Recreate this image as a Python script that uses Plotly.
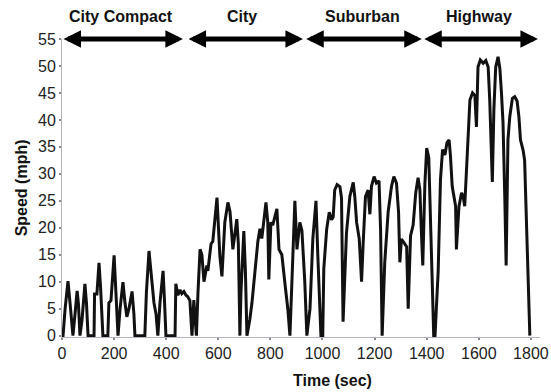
import plotly.graph_objects as go

# ---- data ----
time_city_compact = [0, 4, 12, 23, 31, 42, 50, 58, 63, 69, 77, 88, 94, 100, 123, 125, 134, 142, 148, 157,
                     176, 180, 188, 200, 205, 215, 223, 234, 242, 249, 257, 269, 276, 280, 318, 324, 334, 342, 353, 361,
                     368, 376, 388, 393, 399, 434, 437, 445, 453, 460, 468, 476, 483, 491, 499, 506, 516]
speed_city_compact = [0, 0, 5, 10.1, 6, 0, 4, 8.3, 6, 0, 3, 9.6, 6, 0, 0, 7.7, 7.7, 13.5, 9, 0,
                      0, 6.1, 6.5, 14.9, 10, 0, 5, 9.9, 6, 3.5, 5, 8.2, 4, 0, 0, 8, 15.7, 11, 6.1, 4,
                      0, 6, 12.0, 7, 0, 0, 9.6, 7.5, 8.5, 7.8, 8.2, 7.5, 7.2, 6.5, 0, 6.6, 0]

time_city = [522, 530, 537, 545, 556, 560, 572, 579, 595, 606, 614, 625, 637, 645, 656, 660, 671, 677, 683, 687,
             698, 704, 710, 721, 729, 741, 752, 760, 767, 783, 790, 794, 802, 809, 825, 833, 844, 856, 867, 875,
             883, 894, 902, 913, 921, 932, 940, 952, 963, 975, 982, 994]
speed_city = [8, 16.0, 15, 10, 13, 12, 17, 17.5, 25.6, 14.8, 11, 21, 24.7, 23, 16, 17.5, 21.6, 17, 0, 8,
              19.4, 12, 0, 3, 6, 12, 17.5, 19.8, 18, 24.7, 21, 10.4, 21, 20.5, 23.5, 16, 15, 9.6, 4.9, 0,
              12, 25, 16, 21, 19.5, 10, 0, 5, 18, 25, 15, 0]

time_suburban = [1001, 1005, 1016, 1026, 1035, 1041, 1047, 1056, 1067, 1073, 1079, 1092, 1105, 1118, 1124, 1131,
                 1141, 1150, 1156, 1165, 1175, 1182, 1188, 1198, 1207, 1217, 1223, 1229, 1239, 1252, 1265, 1274,
                 1284, 1292, 1297, 1303, 1312, 1323, 1329, 1338, 1348, 1358, 1367, 1374, 1379, 1385, 1393, 1400,
                 1408, 1416, 1424, 1427]
speed_suburban = [0, 12.4, 19.7, 22.9, 21.5, 22, 27, 28, 27.6, 25.5, 2.6, 19, 25.8, 28.4, 25.8, 21,
                  18, 10, 17, 25.8, 27, 22.5, 27.7, 29.5, 28.3, 28.7, 19.7, 0, 13.6, 22.9, 27.7, 29.5,
                  28.3, 22.9, 13.6, 17.9, 17.3, 16.5, 5, 18.5, 20.5, 26.5, 29.3, 27, 20, 13, 28, 34.8,
                  33, 20.3, 8.7, 0]

time_highway = [1432, 1444, 1453, 1461, 1470, 1478, 1486, 1491, 1498, 1504, 1511, 1514, 1524, 1534, 1540, 1546,
                1553, 1559, 1566, 1576, 1585, 1591, 1597, 1606, 1617, 1627, 1636, 1642, 1649, 1652, 1658, 1665,
                1674, 1681, 1687, 1693, 1700, 1705, 1712, 1719, 1729, 1738, 1747, 1754, 1760, 1770, 1776, 1785,
                1791, 1796]
speed_highway = [0, 11.8, 29, 34.5, 33.5, 35.8, 36.3, 33.5, 27.7, 26, 24, 16, 24, 26.5, 25.8, 24,
                 30.2, 37.6, 43.7, 45, 44.5, 38.7, 49.8, 51.1, 50.5, 51, 49.8, 43.7, 29, 28.5, 42, 49.8,
                 51.7, 49.5, 45, 39.5, 25.3, 13, 36.3, 40.6, 44, 44.3, 43.5, 40.6, 36.3, 34.4, 32.5, 17.9,
                 9.2, 0]

segment_names = ["City Compact", "City", "Suburban", "Highway"]
segment_start = [0, 480, 932, 1385]
segment_end = [464, 925, 1381, 1827]
label_center = [228, 690, 1154, 1599]

x_ticks = [0, 200, 400, 600, 800, 1000, 1200, 1400, 1600, 1800]
y_ticks = [0, 5, 10, 15, 20, 25, 30, 35, 40, 45, 50, 55]

time_s = time_city_compact + time_city + time_suburban + time_highway
speed_mph = speed_city_compact + speed_city + speed_suburban + speed_highway

fig = go.Figure()
fig.add_trace(go.Scatter(x=time_s, y=speed_mph, mode="lines",
                         line=dict(color="#111111", width=3), showlegend=False))

font_family = "Liberation Sans, Arial, sans-serif"
annotations = []
for name, s, e, c in zip(segment_names, segment_start, segment_end, label_center):
    annotations.append(dict(x=e, y=55, ax=s, ay=55, xref="x", yref="y", axref="x", ayref="y",
                            text="", showarrow=True, arrowhead=2, startarrowhead=2,
                            arrowside="end+start", arrowsize=0.7, startarrowsize=0.7,
                            arrowwidth=5, arrowcolor="#000000", standoff=0, startstandoff=0))
    annotations.append(dict(x=c, y=1.077, xref="x", yref="paper", text="<b>%s</b>" % name,
                            showarrow=False, font=dict(family=font_family, size=16, color="#111111"),
                            xanchor="center", yanchor="middle"))

annotations.append(dict(x=0.565, y=-0.145, xref="paper", yref="paper", text="<b>Time (sec)</b>",
                        showarrow=False, font=dict(family=font_family, size=16, color="#111111"),
                        xanchor="center", yanchor="middle"))
annotations.append(dict(x=-0.085, y=0.5, xref="paper", yref="paper", text="<b>Speed (mph)</b>",
                        showarrow=False, textangle=-90,
                        font=dict(family=font_family, size=16, color="#111111"),
                        xanchor="center", yanchor="middle"))

fig.update_layout(
    width=551, height=392,
    margin=dict(l=62, r=11, t=39, b=55, autoexpand=False),
    paper_bgcolor="white", plot_bgcolor="white",
    font=dict(family=font_family, size=16, color="#222222"),
    annotations=annotations,
    showlegend=False,
)
fig.update_xaxes(range=[0, 1835], tickvals=x_ticks, showgrid=False, zeroline=False, automargin=False,
                 showline=True, linecolor="#b4b4bc", linewidth=1,
                 ticks="outside", ticklen=2, tickwidth=2, tickcolor="#888888",
                 tickfont=dict(size=16, color="#222222"))
fig.update_yaxes(range=[-0.25, 55], tickvals=y_ticks, showgrid=False, zeroline=False, automargin=False,
                 showline=True, linecolor="#b4b4bc", linewidth=1,
                 ticks="outside", ticklen=2, tickwidth=2, tickcolor="#888888",
                 tickfont=dict(size=16, color="#222222"))

fig.write_html("out.html")
